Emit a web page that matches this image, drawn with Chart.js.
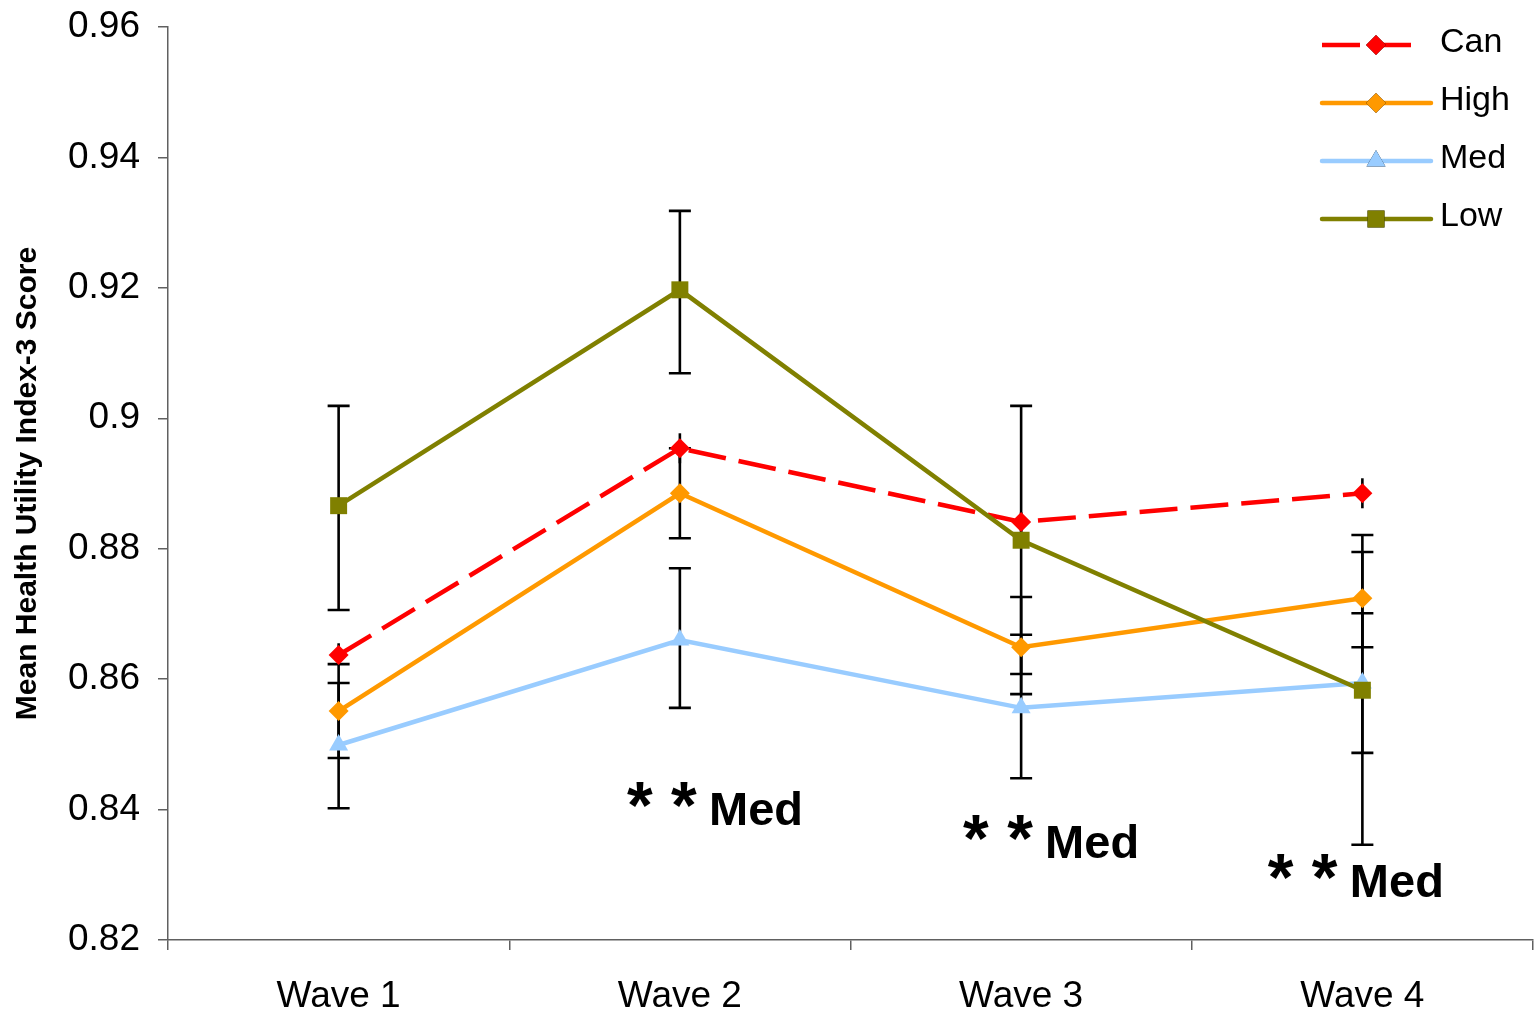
<!DOCTYPE html>
<html lang="en">
<head>
<meta charset="UTF-8">
<title>Mean Health Utility Index-3 Score by Wave</title>
<script src="https://cdn.jsdelivr.net/npm/chart.js@4.4.1/dist/chart.umd.min.js"></script>
<style>
  html, body { margin: 0; padding: 0; background: #fff; }
</style>
</head>
<body>
<canvas id="myChart" width="1539" height="1015"></canvas>
<script>
// categories
const waves = ['Wave 1', 'Wave 2', 'Wave 3', 'Wave 4'];

// y axis
const yMin = 0.82;
const yMax = 0.96;
const yStep = 0.02;

// series means
const canMean  = [0.8637, 0.8954, 0.8841, 0.8885];
const highMean = [0.8551, 0.8885, 0.8649, 0.8724];
const medMean  = [0.8499, 0.8660, 0.8556, 0.8594];
const lowMean  = [0.8866, 0.9197, 0.8813, 0.8583];

// error bar ends
const canHi  = [0.8655, 0.8977, 0.8856, 0.8908];
const canLo  = [0.8622, 0.8931, 0.8826, 0.8862];
const highHi = [0.8623, 0.8954, 0.8726, 0.8795];
const highLo = [0.8479, 0.8816, 0.8577, 0.8649];
const medHi  = [0.8594, 0.8770, 0.8668, 0.8701];
const medLo  = [0.8402, 0.8556, 0.8448, 0.8487];
const lowHi  = [0.9019, 0.9318, 0.9019, 0.8821];
const lowLo  = [0.8706, 0.9069, 0.8608, 0.8346];

// "**Med" notes: position as category index and y value
const noteText = ['Med', 'Med', 'Med'];
const noteX = [0.845, 1.830, 2.723];
const noteY = [0.8376, 0.8326, 0.8266];

const FONT = "'Liberation Sans', Arial, sans-serif";

const errorBars = {
    id: 'errorBars',
    beforeDatasetsDraw(chart) {
        const ctx = chart.ctx;
        const xs = chart.scales.x, ys = chart.scales.y;
        ctx.save();
        ctx.strokeStyle = '#000';
        ctx.lineWidth = 2.6;
        chart.data.datasets.forEach(ds => {
            ds.errHi.forEach((hi, i) => {
                const x = xs.getPixelForValue(i);
                const y1 = ys.getPixelForValue(hi);
                const y2 = ys.getPixelForValue(ds.errLo[i]);
                ctx.beginPath();
                ctx.moveTo(x, y1);
                ctx.lineTo(x, y2);
                if (ds.capWidth) {
                    ctx.moveTo(x - ds.capWidth, y1);
                    ctx.lineTo(x + ds.capWidth, y1);
                    ctx.moveTo(x - ds.capWidth, y2);
                    ctx.lineTo(x + ds.capWidth, y2);
                }
                ctx.stroke();
            });
        });
        ctx.restore();
    }
};

const legendAndNotes = {
    id: 'legendAndNotes',
    afterDraw(chart) {
        const ctx = chart.ctx;
        const xs = chart.scales.x, ys = chart.scales.y;
        ctx.save();

        // legend
        const entries = [0, 1, 2, 3].map(i => chart.data.datasets.find(d => d.legendIndex === i));
        entries.forEach((ds, i) => {
            const y = 45 + i * 58;
            ctx.strokeStyle = ds.borderColor;
            ctx.lineWidth = ds.borderWidth;
            ctx.setLineDash(ds.borderDash || []);
            ctx.lineCap = ds.borderDash ? 'butt' : 'round';
            ctx.beginPath();
            ctx.moveTo(1322, y);
            ctx.lineTo(ds.borderDash ? 1420 : 1431, y);
            ctx.stroke();
            ctx.setLineDash([]);
            Chart.helpers.drawPoint(ctx, {
                pointStyle: ds.pointStyle,
                radius: ds.pointRadius,
                borderWidth: 0
            }, 1376, y);
            ctx.fillStyle = ds.pointBackgroundColor;
            ctx.fill();
            ctx.fillStyle = '#000';
            ctx.font = '34px ' + FONT;
            ctx.textAlign = 'left';
            ctx.textBaseline = 'middle';
            ctx.fillText(ds.label, 1440, y - 2);
        });

        // notes
        ctx.fillStyle = '#000';
        ctx.textBaseline = 'alphabetic';
        ctx.textAlign = 'left';
        noteText.forEach((t, i) => {
            const x = xs.getPixelForValue(noteX[i]);
            const y = ys.getPixelForValue(noteY[i]);
            ctx.font = 'bold 66px ' + FONT;
            ctx.fillText('* *', x, y + 3);
            ctx.font = 'bold 47px ' + FONT;
            ctx.fillText(t, x + 82, y);
        });
        ctx.restore();
    }
};

function series(label, data, hi, lo, color, style, radius, order, idx, dash, cap) {
    return {
        label: label,
        data: data,
        errHi: hi,
        errLo: lo,
        capWidth: cap,
        legendIndex: idx,
        order: order,
        borderColor: color,
        backgroundColor: color,
        borderWidth: 4.5,
        borderDash: dash,
        pointStyle: style,
        pointRadius: radius,
        pointBorderWidth: 0,
        pointBackgroundColor: color,
        tension: 0,
        fill: false
    };
}

const axisColor = '#606060';

new Chart(document.getElementById('myChart').getContext('2d'), {
    type: 'line',
    data: {
        labels: waves,
        datasets: [
            series('Low',  lowMean,  lowHi,  lowLo,  '#808000', 'rect',     12,   0, 3, undefined, 11),
            series('Med',  medMean,  medHi,  medLo,  '#99CCFF', 'triangle', 11,   1, 2, undefined, 11),
            series('High', highMean, highHi, highLo, '#FF9900', 'rectRot',  10,   2, 1, undefined, 11),
            series('Can',  canMean,  canHi,  canLo,  '#FF0000', 'rectRot',  10,   3, 0, [38, 13], 0)
        ]
    },
    options: {
        responsive: false,
        devicePixelRatio: 1,
        animation: false,
        layout: { autoPadding: false, padding: { top: 27, right: 6, left: 0, bottom: 0 } },
        plugins: {
            legend: { display: false },
            tooltip: { enabled: false }
        },
        scales: {
            x: {
                type: 'category',
                offset: true,
                grid: { offset: true, drawOnChartArea: false, drawTicks: true, tickLength: 10, color: axisColor, lineWidth: 1.5 },
                border: { display: true, color: axisColor, width: 1.5 },
                ticks: { color: '#000', font: { family: FONT, size: 37 }, padding: 25 },
                afterFit(scale) {
                    scale.height = 75;
                    scale.paddingLeft = 0;
                    scale.paddingRight = 0;
                }
            },
            y: {
                min: yMin,
                max: yMax,
                grid: { drawOnChartArea: false, drawTicks: true, tickLength: 10, color: axisColor, lineWidth: 1.5 },
                border: { display: true, color: axisColor, width: 1.5 },
                ticks: {
                    stepSize: yStep,
                    color: '#000',
                    padding: 18,
                    font: { family: FONT, size: 37 },
                    callback: v => String(+v.toFixed(2))
                },
                title: {
                    display: true,
                    text: 'Mean Health Utility Index-3 Score',
                    color: '#000',
                    font: { family: FONT, size: 30, weight: 'bold' },
                    padding: { top: 10, bottom: 0 }
                },
                afterFit(scale) {
                    scale.width = 168;
                    scale.paddingTop = 0;
                    scale.paddingBottom = 0;
                }
            }
        }
    },
    plugins: [errorBars, legendAndNotes]
});
</script>
</body>
</html>
